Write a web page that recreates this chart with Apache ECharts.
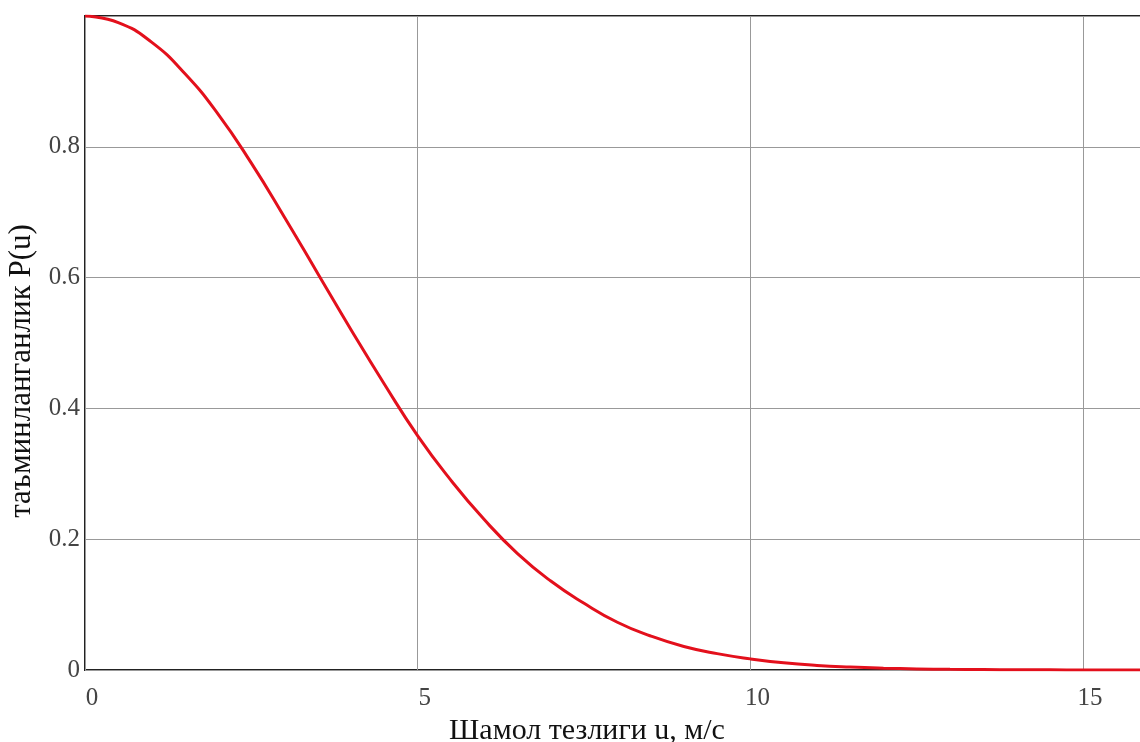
<!DOCTYPE html>
<html>
<head>
<meta charset="utf-8">
<script src="https://cdn.jsdelivr.net/npm/echarts@6/dist/echarts.min.js"></script>
<style>html,body{margin:0;padding:0;background:#fff;}#c{width:1140px;height:742px;}</style>
</head>
<body>
<div id="c"></div>
<script>
const speeds = [0,0.5,1,1.5,2,2.5,3,3.5,4,4.5,5,5.5,6,6.5,7,7.5,8,8.5,9,9.5,10,10.5,11,11.5,12,12.5,13,13.5,14,14.5,15,15.5,16];
const probability = [1.000,0.990,0.960,0.912,0.850,0.775,0.692,0.606,0.520,0.437,0.358,0.290,0.230,0.178,0.136,0.102,0.073,0.052,0.036,0.025,0.017,0.011,0.007,0.0045,0.0028,0.0017,0.001,0.0006,0.0003,0.0002,0.0001,0.0001,0];
const xTicks = [0,5,10,15];
const yTicks = [0,0.2,0.4,0.6,0.8];
const xTitle = 'Шамол тезлиги u, м/с';
const yTitle = 'таъминланганлик P(u)';

const chart = echarts.init(document.getElementById('c'));
const font = '"Liberation Serif", "DejaVu Serif", serif';
chart.setOption({
  animation: false,
  backgroundColor: '#fff',
  grid: {left: 85, top: 16, right: -3, bottom: 72, outerBoundsMode: 'none', containLabel: false,
    show: true, borderColor: '#222', borderWidth: 2, backgroundColor: 'transparent'},
  xAxis: {
    type: 'value', min: 0, max: 15.9, interval: 5,
    axisLine: {show: false},
    axisTick: {show: false},
    splitLine: {show: true, lineStyle: {color: '#999', width: 1}},
    axisLabel: {fontFamily: font, fontSize: 25, color: '#444', margin: 16, padding: [0,0,0,14],
      formatter: v => xTicks.includes(v) ? String(v) : ''},
    name: xTitle, nameLocation: 'middle', nameGap: 37,
    nameTextStyle: {fontFamily: font, fontSize: 30, color: '#111', padding: [0,54,0,0]}
  },
  yAxis: {
    type: 'value', min: 0, max: 1, interval: 0.2,
    axisLine: {show: false},
    axisTick: {show: false},
    splitLine: {show: true, lineStyle: {color: '#999', width: 1}},
    axisLabel: {fontFamily: font, fontSize: 25, color: '#444', margin: 5,
      formatter: v => { const r = Math.round(v*10)/10; return yTicks.includes(r) ? String(r) : ''; }},
    name: yTitle, nameLocation: 'middle', nameGap: 48,
    nameTextStyle: {fontFamily: font, fontSize: 31, color: '#111', padding: [0,56,0,0]}
  },
  series: [{
    type: 'line', smooth: true, showSymbol: false,
    data: speeds.map((u, i) => [u, probability[i]]),
    lineStyle: {color: '#e3101c', width: 3},
    clip: true
  }]
});
</script>
</body>
</html>
